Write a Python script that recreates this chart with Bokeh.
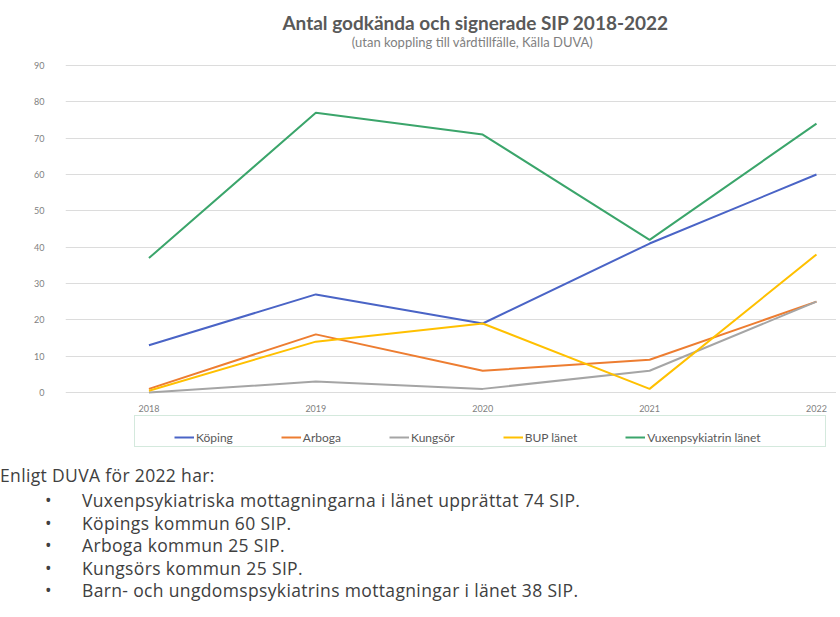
from bokeh.plotting import figure
from bokeh.models import (Range1d, FixedTicker, Legend, LegendItem, Label, Div)
from bokeh.layouts import column
from bokeh.embed import file_html
from bokeh.resources import INLINE

years = ["2018", "2019", "2020", "2021", "2022"]
koping = [13, 27, 19, 41, 60]
arboga = [1, 16, 6, 9, 25]
kungsor = [0, 3, 1, 6, 25]
bup = [0.5, 14, 19, 1, 38]
vuxen = [37, 77, 71, 42, 74]
series_names = ["Köping", "Arboga", "Kungsör", "BUP länet", "Vuxenpsykiatrin länet"]
colors = ["#4a64c6", "#ed7d31", "#a5a5a5", "#ffc000", "#3ba56b"]
y_ticks = list(range(0, 100, 10))

title_text = "Antal godkända och signerade SIP 2018-2022"
subtitle_text = "(utan koppling till vårdtillfälle, Källa DUVA)"
header_text = "Enligt DUVA för 2022 har:"
bullets = [
    "Vuxenpsykiatriska mottagningarna i länet upprättat 74 SIP.",
    "Köpings kommun 60 SIP.",
    "Arboga kommun 25 SIP.",
    "Kungsörs kommun 25 SIP.",
    "Barn- och ungdomspsykiatrins mottagningar i länet 38 SIP.",
]

FONT = "Lato"
xs = list(range(len(years)))

# frame spans the whole canvas height; value 90 sits 65px below the top, 0 at 392px
p = figure(width=836, height=452, output_backend="svg", toolbar_location=None,
           x_range=Range1d(-0.5, 4.12), y_range=Range1d(-16.51, 107.89),
           min_border_left=65, min_border_right=0, min_border_top=0,
           min_border_bottom=0, title=None)
p.outline_line_color = None
p.background_fill_color = "white"
p.border_fill_color = "white"

# titles (screen units, relative to the frame's bottom-left corner)
p.add_layout(Label(x=410, y=430, x_units="screen", y_units="screen",
                   text=title_text, text_align="center", text_baseline="middle",
                   text_font=FONT, text_font_size="19px", text_font_style="bold",
                   text_color="#595959"))
p.add_layout(Label(x=407, y=411, x_units="screen", y_units="screen",
                   text=subtitle_text, text_align="center", text_baseline="middle",
                   text_font=FONT, text_font_size="13px", text_color="#7f7f7f"))

# axes
p.xaxis.fixed_location = 0
p.xaxis.ticker = FixedTicker(ticks=xs)
p.xaxis.major_label_overrides = {i: y for i, y in enumerate(years)}
p.yaxis.ticker = FixedTicker(ticks=y_ticks)
for ax in (p.xaxis[0], p.yaxis[0]):
    ax.axis_line_color = None
    ax.major_tick_line_color = None
    ax.minor_tick_line_color = None
    ax.major_label_text_font = FONT
    ax.major_label_text_font_size = "9px"
    ax.major_label_text_color = "#7f7f7f"
p.xaxis.major_label_standoff = 6
p.yaxis.major_label_standoff = 15

p.xgrid.grid_line_color = None
p.ygrid.ticker = FixedTicker(ticks=y_ticks)
p.ygrid.grid_line_color = "#dcdcdc"
p.ygrid.grid_line_width = 1

data = [koping, arboga, kungsor, bup, vuxen]
renderers = []
for vals, c in zip(data, colors):
    r = p.line(xs, vals, line_color=c, line_width=2)
    renderers.append(r)

# legend frame (background box)
dummy = p.line(xs, koping, line_alpha=0)
box = Legend(items=[LegendItem(label=" ", renderers=[dummy])], location=(69, 5),
             orientation="horizontal", glyph_width=20, glyph_height=20,
             label_standoff=2, label_width=658, padding=5, margin=0,
             border_line_color="#a9d3bb", border_line_width=1,
             background_fill_color="white", background_fill_alpha=1,
             label_text_font_size="10px")
p.add_layout(box, "center")

items = [LegendItem(label=n, renderers=[r]) for n, r in zip(series_names, renderers)]
leg = Legend(items=items, location=(109, 5), orientation="horizontal",
             glyph_width=20, glyph_height=20, label_standoff=2, label_width=10,
             spacing=48, padding=5, margin=0, border_line_color=None,
             background_fill_alpha=0, label_text_font=FONT,
             label_text_font_size="12px", label_text_color="#595959")
p.add_layout(leg, "center")

lines_html = "".join(
    f'<div style="padding-left:45px"><span style="display:inline-block;width:37px">&#8226;</span>{b}</div>'
    for b in bullets)
html = (f'<div style="font-family:\'Open Sans\';font-size:17.5px;letter-spacing:0.35px;'
        f'color:#404040;line-height:22.5px;padding-top:12px">'
        f'<div style="margin-bottom:2.5px">{header_text}</div>{lines_html}</div>')
div = Div(text=html, width=836, height=160, margin=0)

layout = column(p, div, spacing=0)
open("out.html", "w").write(file_html(layout, INLINE))
